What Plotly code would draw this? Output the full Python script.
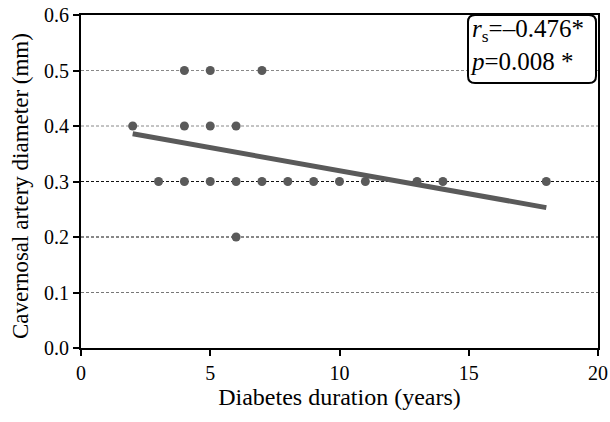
import plotly.graph_objects as go

# Data
duration_years = [2, 4, 5, 6, 4, 5, 7, 3, 4, 5, 6, 7, 8, 9, 10, 11, 13, 14, 18, 6]
diameter_mm = [0.4, 0.4, 0.4, 0.4, 0.5, 0.5, 0.5, 0.3, 0.3, 0.3, 0.3, 0.3, 0.3, 0.3, 0.3, 0.3, 0.3, 0.3, 0.3, 0.2]
fit_x = [2, 18]
fit_y = [0.386, 0.253]
grid_levels = [0.1, 0.2, 0.3, 0.4, 0.5]
grid_colors = ["#777", "#111", "#111", "#888", "#888"]
x_ticks = [0, 5, 10, 15, 20]
y_ticks = [0.0, 0.1, 0.2, 0.3, 0.4, 0.5, 0.6]
stat_text = "<i>r</i><sub>s</sub>=–0.476*<br><i>p</i>=0.008 *"

SERIF = "Liberation Serif, Times New Roman, serif"
W, H = 610, 422
L, R, T, B = 81, 12, 15, 74
pw, ph = W - L - R, H - T - B

fig = go.Figure()

for lvl, col in zip(grid_levels, grid_colors):
    fig.add_shape(type="line", xref="paper", yref="y", x0=0, x1=1, y0=lvl, y1=lvl,
                  line=dict(color=col, width=1, dash="3px,2px"), layer="below")

fig.add_trace(go.Scatter(x=fit_x, y=fit_y, mode="lines",
                         line=dict(color="#5a5a5a", width=5), showlegend=False))
fig.add_trace(go.Scatter(x=duration_years, y=diameter_mm, mode="markers",
                         marker=dict(color="#5a5a5a", size=9), showlegend=False))

# rounded annotation box (pixel-based -> paper)
bx0, bx1, by0, by1 = 468, 596, 15, 83
r = 7
def px(x):
    return (x - L) / pw
def py(y):
    return (H - B - y) / ph
path = (f"M {px(bx0+r)},{py(by0)} L {px(bx1-r)},{py(by0)} "
        f"Q {px(bx1)},{py(by0)} {px(bx1)},{py(by0+r)} "
        f"L {px(bx1)},{py(by1-r)} Q {px(bx1)},{py(by1)} {px(bx1-r)},{py(by1)} "
        f"L {px(bx0+r)},{py(by1)} Q {px(bx0)},{py(by1)} {px(bx0)},{py(by1-r)} "
        f"L {px(bx0)},{py(by0+r)} Q {px(bx0)},{py(by0)} {px(bx0+r)},{py(by0)} Z")
fig.add_shape(type="path", xref="paper", yref="paper", path=path,
              line=dict(color="black", width=2), fillcolor="white", layer="above")

fig.add_annotation(xref="paper", yref="paper", x=px(bx0), y=py(13),
                   xanchor="left", yanchor="top", align="left", showarrow=False,
                   text=stat_text, font=dict(family=SERIF, size=25, color="black"))

# y-axis title as annotation for precise placement
fig.add_annotation(xref="paper", yref="paper", x=px(20), y=py(186),
                   xanchor="center", yanchor="middle", textangle=-90, showarrow=False,
                   text="Cavernosal artery diameter (mm)",
                   font=dict(family=SERIF, size=23, color="black"))

axis_common = dict(showline=True, linecolor="black", linewidth=2, mirror=True,
                   ticks="outside", ticklen=6, tickwidth=2, tickcolor="black",
                   showgrid=False, zeroline=False, automargin=False,
                   tickfont=dict(family=SERIF, size=20, color="black"))

fig.update_layout(
    width=W, height=H,
    margin=dict(l=L, r=R, t=T, b=B),
    paper_bgcolor="white", plot_bgcolor="white",
    font=dict(family=SERIF, color="black"),
    xaxis=dict(range=[0, 20], tickvals=x_ticks,
               title=dict(text="Diabetes duration (years)", standoff=5,
                          font=dict(family=SERIF, size=24, color="black")),
               **axis_common),
    yaxis=dict(range=[0, 0.6], tickvals=y_ticks, tickformat=".1f",
               **axis_common),
)

fig.write_html("out.html")
